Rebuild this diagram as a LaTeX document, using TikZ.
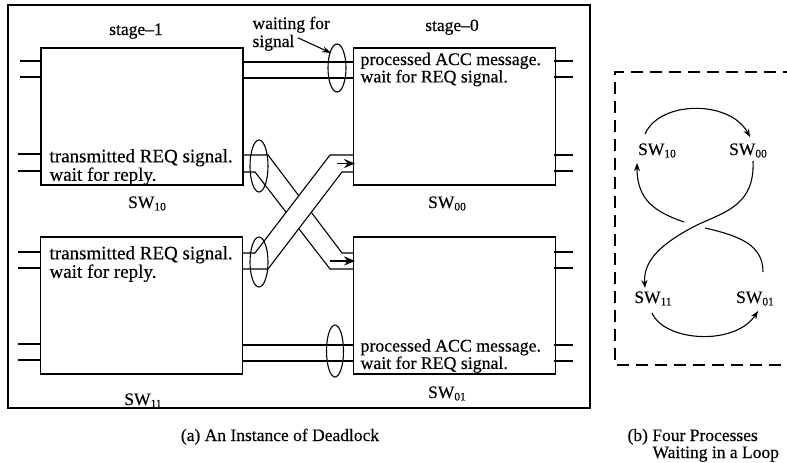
\documentclass[tikz,border=0pt]{standalone}
\usepackage{fontspec}
\setmainfont{Liberation Serif}[FakeBold=0.4]
\usetikzlibrary{arrows.meta}
\newcommand{\swl}[1]{SW\raisebox{-0.3ex}{\fontsize{11.5}{11.5}\selectfont #1}}
\begin{document}
\begin{tikzpicture}[x=1pt,y=-1pt,line width=1.1pt,
  box/.style={draw,inner sep=0pt,outer sep=0pt,minimum width=202pt,minimum height=137pt},
  txt/.style={inner sep=0pt,align=left,anchor=west,font=\fontsize{19}{16}\selectfont},
  txtb/.style={inner sep=0pt,align=left,anchor=west,font=\fontsize{17.8}{15.5}\selectfont},
  lab/.style={inner sep=0pt,anchor=base,font=\fontsize{17.5}{16}\selectfont},
  wire/.style={draw,line width=1.1pt},
  bandarrow/.style={-{Stealth[length=11pt,width=9pt]},line width=1.6pt},
  loop/.style={line width=1.1pt,-{Stealth[length=8pt,width=6pt,inset=2.5pt]}},
  grp/.style={draw,line width=1.1pt}]
\useasboundingbox (0,0) rectangle (787,463);

% outer frame (a)
\draw[line width=1.2pt] (8,5) rectangle (590,408);

% boxes
\node[box] (sw10) at (142,116.5) {};
\node[box] (sw00) at (454.5,116.5) {};
\node[box] (sw11) at (141.5,305.5) {};
\node[box] (sw01) at (454.5,305.5) {};

% left stubs
\draw[wire] (20,61) -- (41,61) (20,77) -- (41,77);
\draw[wire] (18,154) -- (41,154) (18,171) -- (41,171);
\draw[wire] (18,252) -- (40.5,252) (18,268) -- (40.5,268);
\draw[wire] (18,344) -- (40.5,344) (18,360) -- (40.5,360);
% right stubs
\draw[wire] (553.5,61) -- (573,61) (553.5,77) -- (573,77);
\draw[wire] (553.5,155) -- (573,155) (553.5,171) -- (573,171);
\draw[wire] (553.5,252) -- (573,252) (553.5,268) -- (573,268);
\draw[wire] (553.5,345) -- (573,345) (553.5,361) -- (573,361);

% straight links
\draw[wire] (243,62) -- (353.5,62) (243,78) -- (353.5,78);
\draw[wire] (242.5,345) -- (353.5,345) (242.5,361) -- (353.5,361);

% down band SW10 -> SW01
\draw[wire] (243,155) -- (268,155) -- (342,253) -- (353.5,253);
\draw[wire] (243,172) -- (255,172) -- (330,269) -- (353.5,269);
% up band SW11 -> SW00 (in front)
\fill[white] (255,253) -- (330,155) -- (342,172) -- (268,269) -- cycle;
\draw[wire] (242.5,253) -- (255,253) -- (330,155) -- (353.5,155);
\draw[wire] (242.5,269) -- (268,269) -- (342,172) -- (353.5,172);

% band arrows
\draw[bandarrow] (337,163.5) -- (355,163.5);
\draw[bandarrow] (330,261) -- (355,261);

% ellipses
\draw[grp] (337,68) ellipse [x radius=9,y radius=24];
\draw[grp] (259,166) ellipse [x radius=9,y radius=26];
\draw[grp] (259,262) ellipse [x radius=9,y radius=25];
\draw[grp] (335,351) ellipse [x radius=8.5,y radius=26];

% waiting for signal
\node[inner sep=0pt,anchor=base west,font=\fontsize{17.5}{18}\selectfont] (wait) at (252,29) {waiting for};
\node[inner sep=0pt,anchor=base west,font=\fontsize{17.5}{18}\selectfont] (sig) at (252,47) {signal};
\coordinate (ell) at (331,53);
\draw[-{Stealth[length=9pt,width=6pt]},line width=1.1pt] (sig.east) ++(3,-5) -- (ell);

% stage labels
\node[lab] (st1) at (136,35) {stage--1};
\node[lab] (st0) at (452,31) {stage--0};

% box texts
\node[txt] (t10) at (49,167) {transmitted REQ signal.\\wait for reply.};
\node[txtb] (t00) at (360,69.5) {processed ACC message.\\wait for REQ signal.};
\node[txt] (t11) at (49,264) {transmitted REQ signal.\\wait for reply.};
\node[txtb] (t01) at (360,356) {processed ACC message.\\wait for REQ signal.};

% SW labels
\node[lab] (l10) at (147,208) {\swl{10}};
\node[lab] (l00) at (447,208) {\swl{00}};
\node[lab] (l11) at (143,405) {\swl{11}};
\node[lab] (l01) at (447,398) {\swl{01}};

% caption (a)
\node[lab] (capa) at (280,441) {(a) An Instance of Deadlock};

% (b) dashed frame
\draw[dash pattern=on 12pt off 7pt,line width=1.1pt] (795,72) -- (615,72) -- (615,365) -- (795,365);

% (b) labels
\node[lab] (b10) at (657,155) {\swl{10}};
\node[lab] (b00) at (748,155) {\swl{00}};
\node[lab] (b11) at (653,303) {\swl{11}};
\node[lab] (b01) at (755,303) {\swl{01}};

% (b) loop
\draw[loop] (645,134) .. controls (660,100) and (730,100) .. (750,137);
\draw[loop] (753,161) .. controls (755,205) and (725,212) .. (697,225) .. controls (662,243) and (643,260) .. (645,288);
\draw[line width=1.1pt] (763,272) .. controls (763,245) and (740,236) .. (705,228);
\draw[loop] (684,222) .. controls (655,212) and (637,200) .. (637,163);
\draw[loop] (652,313) .. controls (665,342) and (735,346) .. (758,311);

% caption (b)
\node[inner sep=0pt,anchor=base west,font=\fontsize{17.5}{18}\selectfont] (capb1) at (627,441) {(b) Four Processes};
\node[inner sep=0pt,anchor=base west,font=\fontsize{17.5}{18}\selectfont] (capb2) at (652,458) {Waiting in a Loop};
\end{tikzpicture}
\end{document}
